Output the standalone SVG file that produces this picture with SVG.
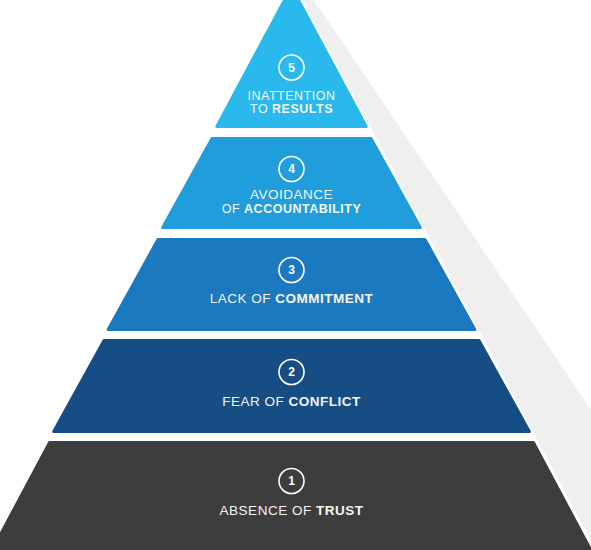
<svg xmlns="http://www.w3.org/2000/svg" width="591" height="550" viewBox="0 0 591 550">
<style>
.lay{stroke-linejoin:round;stroke-width:3}
.ring{fill:none;stroke:#ffffff;stroke-width:1.6}
.num{font-family:"Liberation Sans",Arial,sans-serif;font-size:12px;font-weight:bold;fill:#ffffff;text-anchor:middle}
.lbl{font-family:"Liberation Sans",Arial,sans-serif;font-size:13.5px;fill:#f4f4f4;text-anchor:middle;letter-spacing:0.5px}
.sm{font-size:12.5px}
.b{font-weight:bold}
</style>
<rect width="591" height="550" fill="#ffffff"/>
<polygon id="shadow" points="295,-14.5 304,-14.5 686,550 596,550" fill="#efefef"/>
<g id="layer5">
<polygon class="lay" fill="#29b9ec" stroke="#29b9ec" points="291.5,-13 366.2,126.5 216.8,126.5"/>
<circle class="ring" cx="291.5" cy="67.5" r="12.5"/>
<text class="num" x="291.5" y="71.8">5</text>
<text class="lbl sm" x="291.5" y="99.5">INATTENTION</text>
<text class="lbl sm" x="291.5" y="113">TO <tspan class="b">RESULTS</tspan></text>
</g>
<g id="layer4">
<polygon class="lay" fill="#1f9edb" stroke="#1f9edb" points="212,138.5 371,138.5 420.3,227.5 162.7,227.5"/>
<circle class="ring" cx="291.5" cy="169" r="12.5"/>
<text class="num" x="291.5" y="173.3">4</text>
<text class="lbl" x="291.5" y="199">AVOIDANCE</text>
<text class="lbl sm" x="291.5" y="212.5">OF <tspan class="b">ACCOUNTABILITY</tspan></text>
</g>
<g id="layer3">
<polygon class="lay" fill="#1b79c0" stroke="#1b79c0" points="158,239.5 425,239.5 474.8,329.5 108.2,329.5"/>
<circle class="ring" cx="291.5" cy="270" r="12.5"/>
<text class="num" x="291.5" y="274.3">3</text>
<text class="lbl" x="291.5" y="303">LACK OF <tspan class="b">COMMITMENT</tspan></text>
</g>
<g id="layer2">
<polygon class="lay" fill="#164d85" stroke="#164d85" points="104,340.5 479,340.5 529.3,431.5 53.7,431.5"/>
<circle class="ring" cx="291.5" cy="372" r="12.5"/>
<text class="num" x="291.5" y="376.3">2</text>
<text class="lbl" x="291.5" y="406">FEAR OF <tspan class="b">CONFLICT</tspan></text>
</g>
<g id="layer1">
<polygon class="lay" fill="#3d3d3d" stroke="#3d3d3d" points="49.6,442.5 533.4,442.5 594,556 -11,556"/>
<circle class="ring" cx="291.5" cy="481" r="12.5"/>
<text class="num" x="291.5" y="485.3">1</text>
<text class="lbl" x="291.5" y="514.5">ABSENCE OF <tspan class="b">TRUST</tspan></text>
</g>
<g id="connectors"/>
</svg>
